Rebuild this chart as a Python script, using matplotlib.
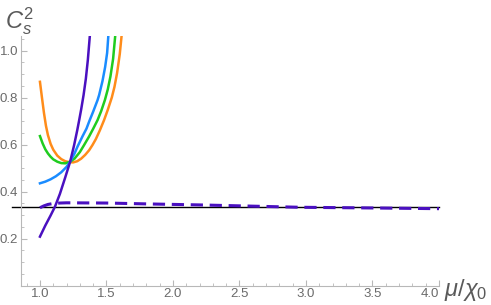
# C_s^2 versus mu/chi_0
import matplotlib
matplotlib.use("Agg")
import matplotlib.pyplot as plt
import matplotlib.transforms as mtransforms
from matplotlib.ticker import MultipleLocator, FixedLocator

plt.rcParams['font.family'] = ['Liberation Sans', 'DejaVu Sans']
plt.rcParams['mathtext.fontset'] = 'custom'
plt.rcParams['mathtext.rm'] = 'Liberation Sans'
plt.rcParams['mathtext.it'] = 'Liberation Sans:italic'

# values
purple_x = [1.0, 1.04, 1.08, 1.1125, 1.15, 1.19, 1.227, 1.257, 1.28, 1.295, 1.31, 1.328, 1.345, 1.36, 1.375, 1.38]
purple_y = [0.208, 0.255, 0.298, 0.335, 0.39, 0.46, 0.527, 0.598, 0.66, 0.704, 0.75, 0.811, 0.88, 0.96, 1.063, 1.1]

blue_x = [1.0, 1.04, 1.08, 1.12, 1.16, 1.2, 1.227, 1.26, 1.283, 1.32, 1.35, 1.37, 1.4, 1.433, 1.445, 1.47, 1.49, 1.505, 1.515]
blue_y = [0.435, 0.442, 0.452, 0.465, 0.482, 0.505, 0.527, 0.562, 0.592, 0.635, 0.668, 0.698, 0.74, 0.789, 0.811, 0.87, 0.93, 0.99, 1.07]

green_x = [1.0, 1.02, 1.04, 1.06, 1.08, 1.1, 1.13, 1.16, 1.19, 1.227, 1.26, 1.3, 1.332, 1.37, 1.4, 1.433, 1.46, 1.488, 1.51, 1.53, 1.55, 1.567]
green_y = [0.636, 0.605, 0.58, 0.562, 0.548, 0.537, 0.527, 0.521, 0.52, 0.527, 0.54, 0.568, 0.598, 0.635, 0.667, 0.704, 0.742, 0.789, 0.835, 0.89, 0.965, 1.07]

orange_x = [1.0, 1.015, 1.03, 1.045, 1.06, 1.08, 1.1, 1.13, 1.16, 1.19, 1.22, 1.25, 1.28, 1.31, 1.34, 1.37, 1.395, 1.42, 1.45, 1.482, 1.51, 1.54, 1.56, 1.58, 1.6, 1.615]
orange_y = [0.867, 0.80, 0.735, 0.68, 0.64, 0.603, 0.578, 0.553, 0.538, 0.529, 0.525, 0.524, 0.529, 0.54, 0.556, 0.576, 0.598, 0.623, 0.66, 0.704, 0.748, 0.80, 0.845, 0.905, 0.985, 1.07]

dashed_x = [1.0, 1.03, 1.06, 1.1, 1.15, 1.2, 1.5, 1.83, 2.2, 2.58, 2.95, 3.5, 4.0]
dashed_y = [0.331, 0.339, 0.345, 0.349, 0.351, 0.352, 0.351, 0.347, 0.343, 0.338, 0.333, 0.33, 0.327]

ref_x = [0.79, 4.0]
ref_y = [1 / 3, 1 / 3]

xticks = [1.0, 1.5, 2.0, 2.5, 3.0, 3.5, 4.0]
yticks = [0.2, 0.4, 0.6, 0.8, 1.0]

fig = plt.figure(figsize=(4.91, 3.05), dpi=100)
ax = fig.add_axes([21 / 491, 19.5 / 305, 418 / 491, 249.5 / 305])
ax.set_xlim(0.8575, 4.0)
ax.set_ylim(0, 1.062)

lw = 1.8
ax.plot(ref_x, ref_y, color='black', lw=1.0, clip_on=False, zorder=2)
ax.plot(dashed_x, dashed_y, color='#4a10c0', lw=2.2, dashes=(4, 2.2), zorder=3)
ax.plot(orange_x, orange_y, color='#ff8c1a', lw=lw, zorder=3)
ax.plot(green_x, green_y, color='#1fcc1f', lw=lw, zorder=3)
ax.plot(blue_x, blue_y, color='#1a8cff', lw=lw, zorder=3)
ax.plot(purple_x, purple_y, color='#4a10c0', lw=lw, zorder=4)

for s in ['top', 'right']:
    ax.spines[s].set_visible(False)
for s in ['left', 'bottom']:
    ax.spines[s].set_color('#b8b8b8')
    ax.spines[s].set_linewidth(0.8)

ax.xaxis.set_major_locator(FixedLocator(xticks))
ax.yaxis.set_major_locator(FixedLocator(yticks))
ax.xaxis.set_minor_locator(MultipleLocator(0.1))
ax.yaxis.set_minor_locator(MultipleLocator(0.05))
ax.tick_params(which='both', direction='in', color='#b8b8b8', labelcolor='#6a6a6a',
               labelsize=9.5, pad=2)
ax.tick_params(which='major', length=4, width=0.8)
ax.tick_params(which='minor', length=2, width=0.6)
ax.set_xticklabels([f'{t:.1f}' for t in xticks])
ax.set_yticklabels([f'{t:.1f}' for t in yticks])

# last x label sits a bit to the left, as in the original
last = ax.get_xticklabels()[-1]
last.set_transform(last.get_transform() + mtransforms.ScaledTranslation(-9 / 100, 0, fig.dpi_scale_trans))

fig.text(5 / 491, 1 - 28 / 305, r'$C_s^2$', fontsize=17, color='#5a5a5a')
fig.text(444 / 491, 1 - 296 / 305, r'$\mu/\chi_0$', fontsize=17, color='#5a5a5a')

fig.savefig('out.png', dpi=100)
